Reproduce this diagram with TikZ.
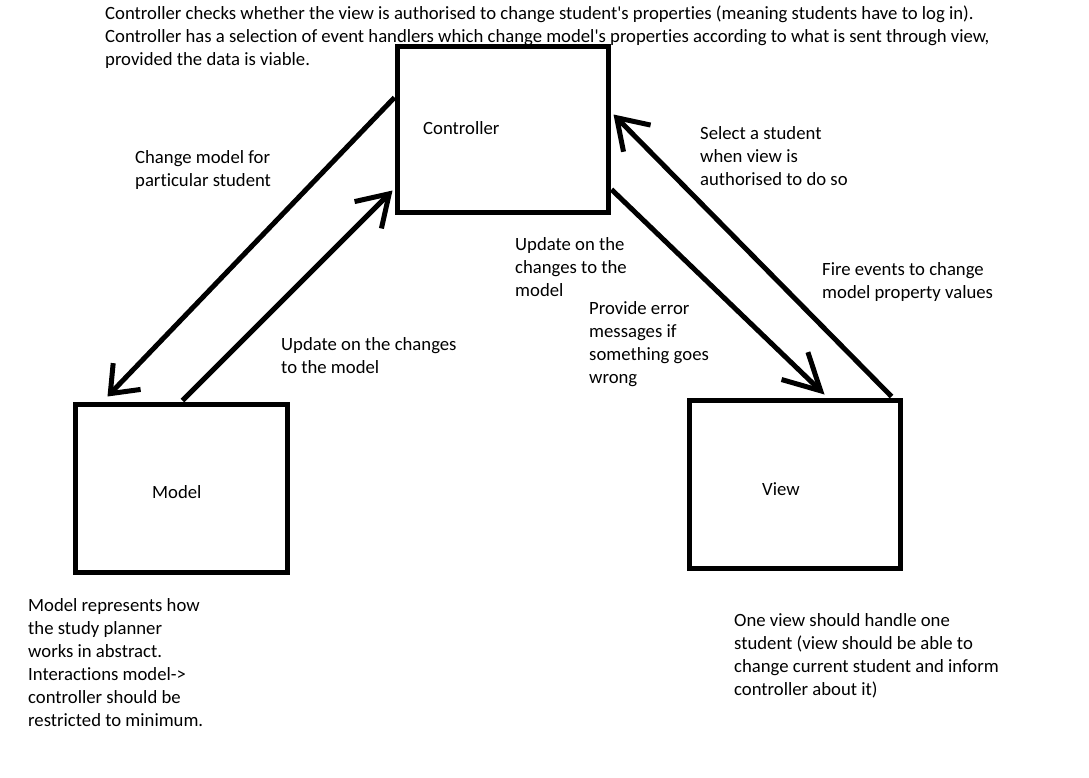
\documentclass[tikz,border=0pt]{standalone}
\usepackage{fontspec}
\setmainfont{Carlito}[Ligatures={NoCommon}]
\usetikzlibrary{arrows.meta,calc}
\begin{document}
\begin{tikzpicture}[x=1pt,y=-1pt,
  box/.style={draw=black, line width=5pt, minimum width=211pt, minimum height=166pt, inner sep=0pt, font=\fontsize{18.7}{23}\selectfont},
  txt/.style={anchor=base west, inner sep=0pt, align=left, font=\fontsize{18.7}{23}\selectfont},
  conn/.style={draw=black, line width=5pt, -{Straight Barb[length=#1, width=38pt]}},
  conn/.default=29pt]
\useasboundingbox[fill=white] (0,0) rectangle (1089,777);

% boxes
\node[box] (ctrl) at (502.5,129) {};
\node[box, minimum width=212pt, minimum height=168pt] (model) at (181,488) {};
\node[box, minimum height=168pt] (view) at (794.5,484) {};

% box labels
\node[txt] (ctrllbl) at (423,134) {Controller};
\node[txt] (modellbl) at (152,498) {Model};
\node[txt] (viewlbl) at (762,495) {View};

% connector end points
\coordinate (a1s) at ($(ctrl.north west)+(0,54)$);
\coordinate (a1e) at ($(model.north west)+(35,-5)$);
\coordinate (a2s) at ($(model.north west)+(110,-1)$);
\coordinate (a2e) at ($(ctrl.south west)+(-2,-24)$);
\coordinate (a3s) at ($(view.north east)+(-11,-1)$);
\coordinate (a3e) at ($(ctrl.north east)+(3,71)$);
\coordinate (a4s) at ($(ctrl.south east)+(1,-25)$);
\coordinate (a4e) at ($(view.north west)+(138,-3)$);

\draw[conn=24pt] (a1s) -- (a1e);
\draw[conn=30pt] (a2s) -- (a2e);
\draw[conn=29pt] (a3s) -- (a3e);
\draw[conn=36pt] (a4s) -- (a4e);

% labels (anchor = baseline of the last line)
\node[txt] (top) at (105,65) {Controller checks whether the view is authorised to change student\textquotesingle s properties (meaning students have to log in).\\Controller has a selection of event handlers which change model\textquotesingle s properties according to what is sent through view,\\provided the data is viable.};
\node[txt] (l1) at (135,186) {Change model for\\particular student};
\node[txt] (l2) at (281,373) {Update on the changes\\to the model};
\node[txt] (l3) at (700,185) {Select a student\\when view is\\authorised to do so};
\node[txt] (l4) at (515,296) {Update on the\\changes to the\\model};
\node[txt] (l5) at (822,298) {Fire events to change\\model property values};
\node[txt] (l6) at (589,383) {Provide error\\messages if\\something goes\\wrong};
\node[txt] (l7) at (28,726) {Model represents how\\the study planner\\works in abstract.\\Interactions model->\\controller should be\\restricted to minimum.};
\node[txt] (l8) at (734,695) {One view should handle one\\student (view should be able to\\change current student and inform\\controller about it)};
\end{tikzpicture}
\end{document}
